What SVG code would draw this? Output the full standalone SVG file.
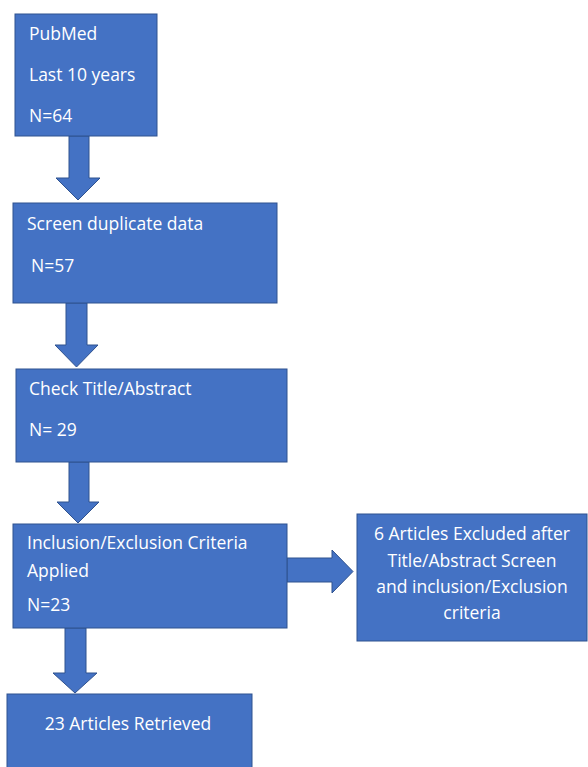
<svg xmlns="http://www.w3.org/2000/svg" width="588" height="767" viewBox="0 0 588 767">
<style>
.box{fill:#4472C4;stroke:#2F528F;stroke-width:1}
.arr{fill:#4472C4;stroke:#2F528F;stroke-width:1}
text{font-family:"Open Sans","Liberation Sans",sans-serif;font-size:17.5px;fill:#ffffff}
.c{text-anchor:middle}
</style>
<rect width="588" height="767" fill="#ffffff"/>
<g id="connectors">
<path class="arr" d="M69,136 H89 V178 H100 L78,200 L56,178 H69 Z"/>
<path class="arr" d="M66,303 H87 V345 H98 L76.5,367 L55,345 H66 Z"/>
<path class="arr" d="M69,462 H89 V502 H99 L78,523 L57,502 H69 Z"/>
<path class="arr" d="M287,558 H332 V550 L353,571.5 L332,593 V582 H287 Z"/>
<path class="arr" d="M65,628 H86 V673 H97 L75,693 L53,673 H65 Z"/>
</g>
<g id="n1">
<rect class="box" x="15" y="14" width="142" height="122"/>
<text x="29" y="40">PubMed</text>
<text x="29" y="81">Last 10 years</text>
<text x="29" y="122">N=64</text>
</g>
<g id="n2">
<rect class="box" x="13" y="203" width="264" height="100"/>
<text x="27" y="230">Screen duplicate data</text>
<text x="31" y="272">N=57</text>
</g>
<g id="n3">
<rect class="box" x="16" y="369" width="271" height="93"/>
<text x="29" y="395">Check Title/Abstract</text>
<text x="29" y="436">N= 29</text>
</g>
<g id="n4">
<rect class="box" x="13" y="524" width="274" height="104"/>
<text x="27" y="549">Inclusion/Exclusion Criteria</text>
<text x="27" y="577">Applied</text>
<text x="27" y="611">N=23</text>
</g>
<g id="n5">
<rect class="box" x="357" y="514" width="230" height="127"/>
<text class="c" x="472" y="540">6 Articles Excluded after</text>
<text class="c" x="472" y="567">Title/Abstract Screen</text>
<text class="c" x="472" y="593">and inclusion/Exclusion</text>
<text class="c" x="472" y="619">criteria</text>
</g>
<g id="n6">
<rect class="box" x="7" y="694" width="245" height="80"/>
<text class="c" x="128" y="730">23 Articles Retrieved</text>
</g>
</svg>
